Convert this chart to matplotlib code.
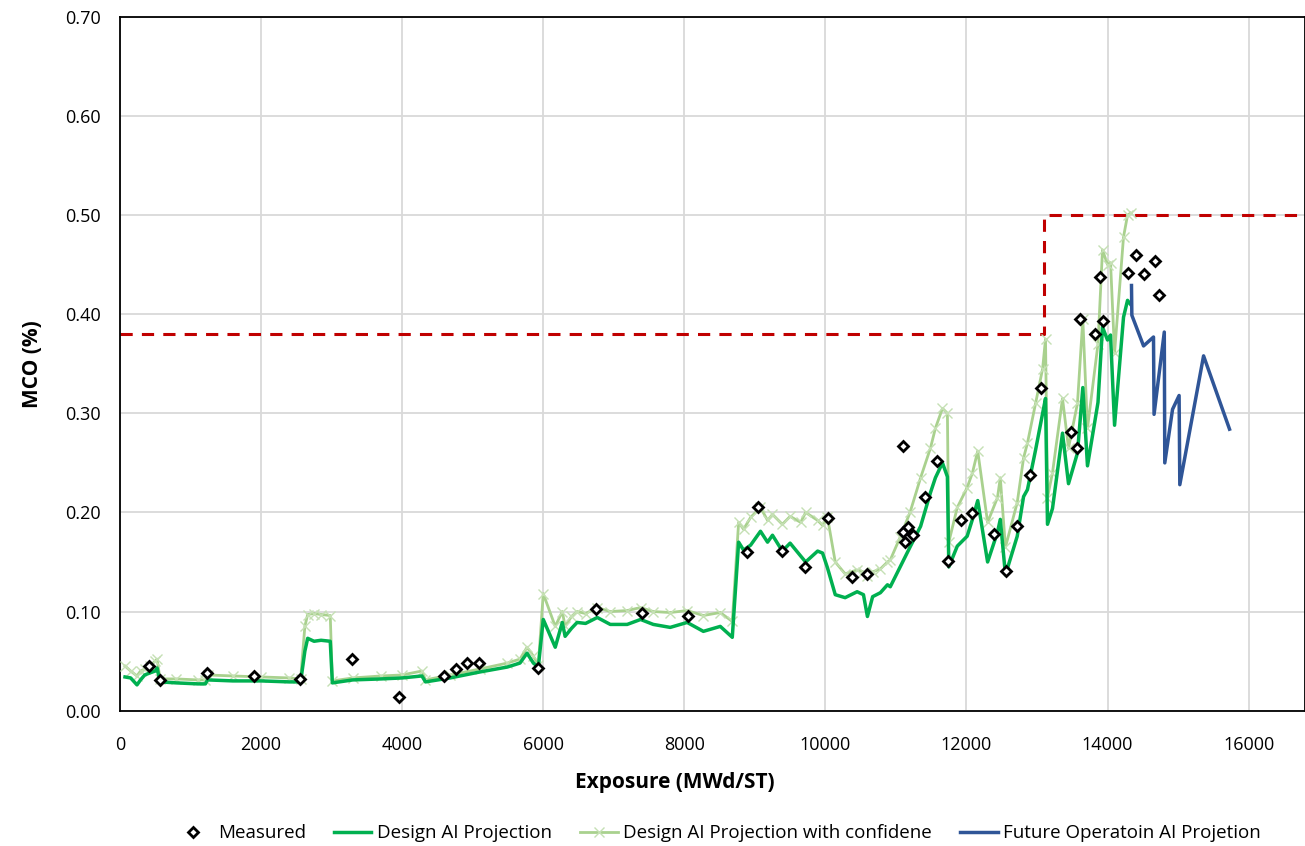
import matplotlib.pyplot as plt

plt.rcParams["font.family"] = ["Open Sans", "DejaVu Sans"]

# measured MCO points
meas_x = [411, 567, 1234, 1900, 2553, 3290, 3957, 4596, 4766, 4922, 5092, 5929,
          6752, 7404, 8057, 8894, 9050, 9390, 9716, 10043, 10383, 10596,
          11106, 11106, 11135, 11177, 11248, 11418, 11589, 11745, 11929, 12085,
          12397, 12567, 12723, 12894, 13050, 13489, 13574, 13617, 13816, 13887,
          13943, 14284, 14397, 14511, 14667, 14723]
meas_y = [0.045, 0.031, 0.038, 0.035, 0.032, 0.052, 0.014, 0.035, 0.042, 0.048, 0.048, 0.043,
          0.103, 0.099, 0.096, 0.160, 0.205, 0.161, 0.145, 0.194, 0.135, 0.138,
          0.267, 0.180, 0.170, 0.185, 0.177, 0.216, 0.252, 0.151, 0.192, 0.199,
          0.178, 0.141, 0.186, 0.238, 0.326, 0.281, 0.265, 0.395, 0.380, 0.438,
          0.393, 0.442, 0.460, 0.441, 0.454, 0.419]

# design AI projection
design_x = [70, 150, 240, 290, 350, 420, 500, 525, 567, 800, 1100, 1210, 1240, 1600,
            2000, 2400, 2560, 2620, 2660, 2750, 2850, 2980, 3010, 3300, 3700, 4000,
            4280, 4330, 4680, 5100, 5490, 5670, 5770, 5860, 5930, 6000, 6170, 6270,
            6310, 6400, 6480, 6600, 6766, 6950, 7190, 7380, 7560, 7800, 8040, 8270,
            8510, 8680, 8770, 8840, 8940, 9080, 9180, 9250, 9390, 9500, 9650, 9720,
            9890, 9960, 10030, 10140, 10280, 10450, 10540, 10596, 10670, 10780, 10880,
            10920, 11060, 11200, 11350, 11490, 11560, 11660, 11730, 11750, 11870, 12010,
            12085, 12160, 12300, 12440, 12480, 12553, 12720, 12810, 12865, 12980, 13080,
            13121, 13149, 13220, 13362, 13447, 13574, 13650, 13716, 13865, 13929, 14000,
            14043, 14100, 14227, 14284, 14326]
design_y = [0.034, 0.033, 0.026, 0.031, 0.036, 0.038, 0.040, 0.043, 0.029, 0.028, 0.027,
            0.027, 0.031, 0.030, 0.030, 0.029, 0.029, 0.060, 0.073, 0.070, 0.071, 0.070,
            0.028, 0.031, 0.032, 0.033, 0.035, 0.029, 0.033, 0.039, 0.044, 0.048, 0.058,
            0.048, 0.044, 0.092, 0.064, 0.089, 0.075, 0.083, 0.089, 0.088, 0.094, 0.087,
            0.087, 0.092, 0.087, 0.084, 0.089, 0.080, 0.085, 0.074, 0.170, 0.162, 0.167,
            0.181, 0.170, 0.177, 0.161, 0.169, 0.156, 0.150, 0.161, 0.159, 0.144, 0.117,
            0.114, 0.120, 0.117, 0.095, 0.115, 0.119, 0.127, 0.125, 0.145, 0.165, 0.186,
            0.220, 0.235, 0.250, 0.236, 0.145, 0.166, 0.176, 0.193, 0.212, 0.150, 0.180,
            0.193, 0.137, 0.176, 0.216, 0.223, 0.263, 0.300, 0.315, 0.188, 0.204, 0.280,
            0.229, 0.260, 0.326, 0.247, 0.311, 0.387, 0.374, 0.379, 0.288, 0.397, 0.414,
            0.410]

# design AI projection with confidence (same exposure points)
conf_y = [0.045, 0.040, 0.035, 0.040, 0.042, 0.045, 0.050, 0.052, 0.032, 0.032, 0.031,
          0.031, 0.036, 0.035, 0.034, 0.033, 0.032, 0.085, 0.097, 0.098, 0.097, 0.096,
          0.030, 0.033, 0.035, 0.036, 0.040, 0.031, 0.036, 0.042, 0.048, 0.052, 0.064,
          0.055, 0.046, 0.118, 0.085, 0.100, 0.085, 0.095, 0.100, 0.098, 0.104, 0.100,
          0.101, 0.104, 0.100, 0.099, 0.101, 0.096, 0.099, 0.090, 0.190, 0.183, 0.195,
          0.205, 0.192, 0.198, 0.188, 0.196, 0.190, 0.200, 0.192, 0.187, 0.195, 0.150,
          0.138, 0.142, 0.140, 0.136, 0.140, 0.143, 0.150, 0.152, 0.175, 0.200, 0.235,
          0.265, 0.285, 0.305, 0.300, 0.170, 0.205, 0.225, 0.240, 0.262, 0.190, 0.215,
          0.235, 0.165, 0.210, 0.255, 0.270, 0.310, 0.345, 0.375, 0.215, 0.240, 0.315,
          0.265, 0.310, 0.395, 0.285, 0.370, 0.465, 0.450, 0.452, 0.361, 0.478, 0.500,
          0.502]

# future operation AI projection
future_x = [14340, 14345, 14511, 14652, 14660, 14805, 14812, 14922, 15015, 15025, 15362, 15730]
future_y = [0.429, 0.399, 0.368, 0.377, 0.299, 0.382, 0.250, 0.304, 0.318, 0.228, 0.358, 0.284]

# operating limit
limit_x = [0, 13100, 13100, 16800]
limit_y = [0.38, 0.38, 0.50, 0.50]

fig = plt.figure(figsize=(13.05, 8.46), dpi=100)
ax = fig.add_axes([0.092, 0.160, 0.908, 0.820])

ax.plot(limit_x, limit_y, color="#c00000", lw=2.2, linestyle=(0, (4, 3)), zorder=2)
ax.plot(design_x, conf_y, color="#a9d18e", lw=2, marker="x", markersize=7,
        markeredgecolor="#c5e0b4", markeredgewidth=1,
        label="Design AI Projection with confidene", zorder=3)
ax.plot(design_x, design_y, color="#00b050", lw=2.5, label="Design AI Projection", zorder=4)
ax.plot(future_x, future_y, color="#2f5597", lw=2.5, label="Future Operatoin AI Projetion",
        zorder=4)
ax.plot(meas_x, meas_y, linestyle="none", marker="D", markersize=5.5,
        markerfacecolor="white", markeredgecolor="black", markeredgewidth=2,
        label="Measured", zorder=5)

ax.set_xlim(0, 16800)
ax.set_ylim(0, 0.70)
ax.set_xticks(range(0, 16001, 2000))
ax.set_yticks([i / 10 for i in range(8)])
ax.set_yticklabels([f"{i / 10:.2f}" for i in range(8)])
ax.tick_params(length=0, labelsize=13)
ax.tick_params(axis="x", pad=18)
ax.tick_params(axis="y", pad=14)
ax.grid(True, color="#d9d9d9", lw=1.3)
ax.set_axisbelow(True)
for s in ax.spines.values():
    s.set_color("black")
    s.set_linewidth(1.3)

ax.set_xlabel("Exposure (MWd/ST)", fontsize=15, fontweight="bold")
ax.xaxis.set_label_coords(0.468, -0.088)
ax.set_ylabel("MCO (%)", fontsize=15, fontweight="bold")
ax.yaxis.set_label_coords(-0.065, 0.5)

handles, labels = ax.get_legend_handles_labels()
order = [3, 1, 0, 2]
fig.legend([handles[i] for i in order], [labels[i] for i in order], loc="center",
           bbox_to_anchor=(0.55, 0.015), ncol=4, frameon=False, fontsize=13.5,
           handlelength=2.0, columnspacing=1.5, handletextpad=0.3)

fig.savefig("out.png", dpi=100)
